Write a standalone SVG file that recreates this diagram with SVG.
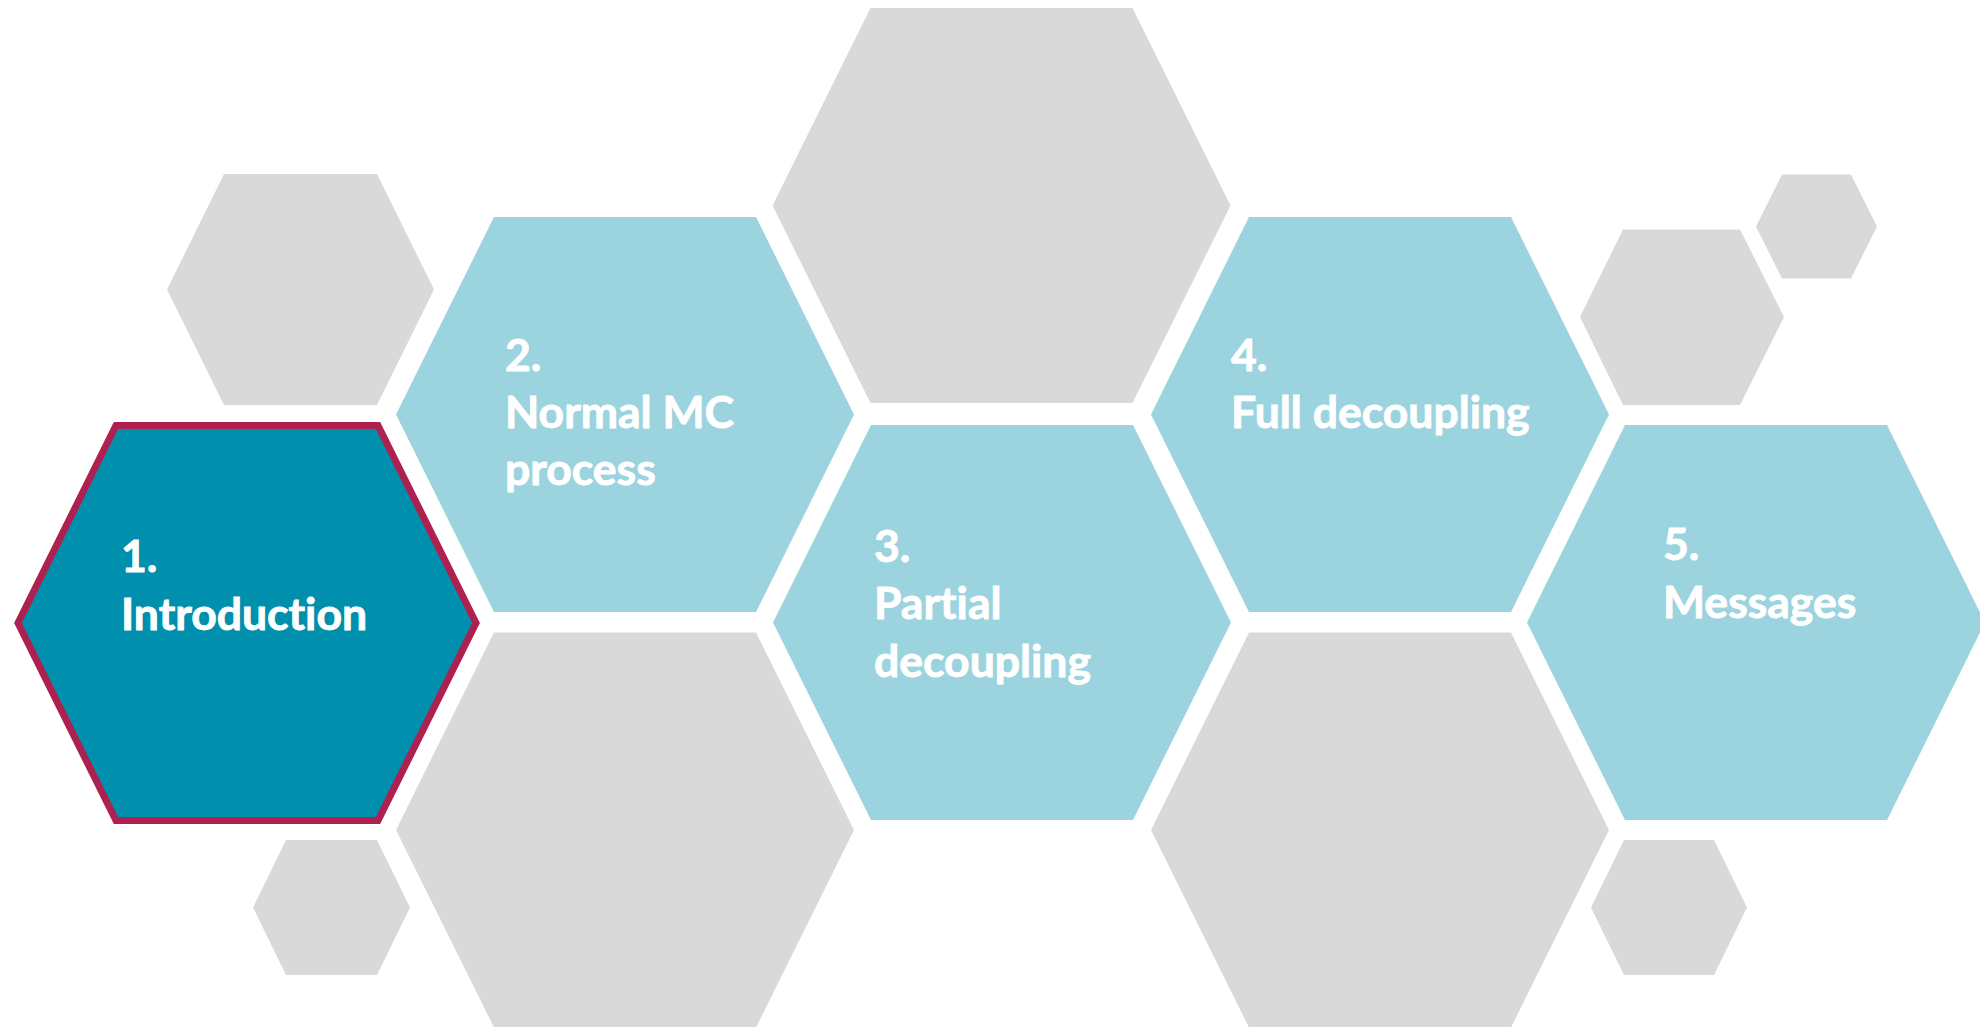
<svg xmlns="http://www.w3.org/2000/svg" width="1980" height="1027" viewBox="0 0 1980 1027">
  <style>
    .deco { fill: #D9D9D9; }
    .step { fill: #9BD3DE; }
    .active { fill: #0090AE; stroke: #AE2050; stroke-width: 7; stroke-linejoin: miter; }
    .label { font-family: Lato, "Open Sans", "Liberation Sans", sans-serif; font-weight: 700; font-size: 44.5px; fill: #FFFFFF; stroke: #FFFFFF; stroke-width: 0.9; font-variant-ligatures: none; }
  </style>
  <defs>
    <!-- large cell, centred on the origin -->
    <polygon id="cell" points="-131,-197.5 131,-197.5 229,0 131,197.5 -131,197.5 -229,0"/>
  </defs>

  <!-- decorative grey cells -->
  <g id="decor">
    <use href="#cell" class="deco" transform="translate(1001.5,205.5)"/>
    <use href="#cell" class="deco" transform="translate(625,830)"/>
    <use href="#cell" class="deco" transform="translate(1380,830)"/>
    <polygon class="deco" points="224,174 377,174 434,289.5 377,405 224,405 167,289.5"/>
    <polygon class="deco" points="286,840 377,840 410,907.5 377,975 286,975 253,907.5"/>
    <polygon class="deco" points="1624,840 1714,840 1747,907.5 1714,975 1624,975 1591,907.5"/>
    <polygon class="deco" points="1623,229.5 1740,229.5 1784,317 1740,405 1623,405 1580,317"/>
    <polygon class="deco" points="1782,174.5 1851,174.5 1877,226.5 1851,278.5 1782,278.5 1756,226.5"/>
  </g>

  <g id="connectors"></g>

  <g id="node-1">
    <use href="#cell" class="active" transform="translate(247,623)"/>
    <text class="label" x="121" y="572">1.</text>
    <text class="label" x="121" y="630">Introduction</text>
  </g>

  <g id="node-2">
    <use href="#cell" class="step" transform="translate(625,414.5)"/>
    <text class="label" x="505" y="371">2.</text>
    <text class="label" x="505" y="428">Normal MC</text>
    <text class="label" x="505" y="485">process</text>
  </g>

  <g id="node-3">
    <use href="#cell" class="step" transform="translate(1002,622.5)"/>
    <text class="label" x="874" y="562">3.</text>
    <text class="label" x="874" y="619">Partial</text>
    <text class="label" x="874" y="677">decoupling</text>
  </g>

  <g id="node-4">
    <use href="#cell" class="step" transform="translate(1380,414.5)"/>
    <text class="label" x="1231" y="371">4.</text>
    <text class="label" x="1231" y="428">Full decoupling</text>
  </g>

  <g id="node-5">
    <use href="#cell" class="step" transform="translate(1756,622.5)"/>
    <text class="label" x="1663" y="560">5.</text>
    <text class="label" x="1663" y="618">Messages</text>
  </g>
</svg>
